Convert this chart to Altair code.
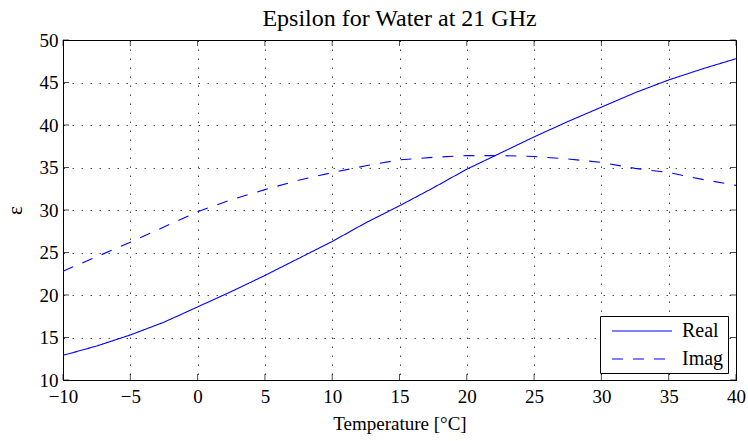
import altair as alt
import pandas as pd

# ---- data ----
temps = [-10, -7.5, -5, -2.5, 0, 2.5, 5, 7.5, 10, 12.5, 15, 17.5, 20, 22.5, 25, 27.5, 30, 32.5, 35, 37.5, 40]
real_vals = [12.9, 14.0, 15.3, 16.8, 18.6, 20.4, 22.3, 24.3, 26.3, 28.5, 30.5, 32.6, 34.8, 36.7, 38.6, 40.4, 42.1, 43.8, 45.3, 46.6, 47.8]
imag_vals = [22.8, 24.5, 26.2, 28.0, 29.8, 31.2, 32.4, 33.5, 34.4, 35.2, 35.9, 36.2, 36.4, 36.4, 36.3, 36.0, 35.6, 34.9, 34.4, 33.6, 32.9]
series_names = ["Real", "Imag"]
x_ticks = [-10, -5, 0, 5, 10, 15, 20, 25, 30, 35, 40]
y_ticks = [10, 15, 20, 25, 30, 35, 40, 45, 50]

title_text = "Epsilon for Water at 21 GHz"
x_title = "Temperature [°C]"
y_title = "ε"

FONT = "Liberation Serif"
BLUE = "#0000ff"

df = pd.DataFrame({
    "T": temps * 2,
    "eps": real_vals + imag_vals,
    "series": [series_names[0]] * len(temps) + [series_names[1]] * len(temps),
})

xscale = alt.Scale(domain=[x_ticks[0], x_ticks[-1]], nice=False, zero=False)
yscale = alt.Scale(domain=[y_ticks[0], y_ticks[-1]], nice=False, zero=False)
xaxis = alt.Axis(values=x_ticks, grid=True, tickSize=0, labelPadding=7,
                 titlePadding=8, format="d", title=x_title)
yaxis = alt.Axis(values=y_ticks, grid=True, tickSize=0, labelPadding=5,
                 titlePadding=14, format="d", title=y_title, titleFontSize=21)

lines = alt.Chart(df).mark_line(strokeWidth=1.1).encode(
    x=alt.X("T:Q", scale=xscale, axis=xaxis, title=x_title),
    y=alt.Y("eps:Q", scale=yscale, axis=yaxis, title=y_title),
    color=alt.Color("series:N", scale=alt.Scale(domain=series_names, range=[BLUE, BLUE]),
                    legend=alt.Legend(title=None)),
    strokeDash=alt.StrokeDash("series:N",
                              scale=alt.Scale(domain=series_names, range=[[1, 0], [11, 10]]),
                              legend=alt.Legend(title=None)),
    order=alt.Order("T:Q"),
)

xt = pd.DataFrame({"v": x_ticks})
yt = pd.DataFrame({"v": y_ticks})

tick_bottom = alt.Chart(xt).mark_tick(orient="vertical", size=6, thickness=1, color="black", yOffset=-3).encode(
    x=alt.X("v:Q", scale=xscale, axis=xaxis, title=x_title),
    y=alt.YDatum(y_ticks[0], scale=yscale, axis=yaxis, title=y_title))
tick_top = alt.Chart(xt).mark_tick(orient="vertical", size=6, thickness=1, color="black", yOffset=3).encode(
    x=alt.X("v:Q", scale=xscale, axis=xaxis, title=x_title),
    y=alt.YDatum(y_ticks[-1], scale=yscale, axis=yaxis, title=y_title))
tick_left = alt.Chart(yt).mark_tick(orient="horizontal", size=6, thickness=1, color="black", xOffset=3).encode(
    y=alt.Y("v:Q", scale=yscale, axis=yaxis, title=y_title),
    x=alt.XDatum(x_ticks[0], scale=xscale, axis=xaxis, title=x_title))
tick_right = alt.Chart(yt).mark_tick(orient="horizontal", size=6, thickness=1, color="black", xOffset=-3).encode(
    y=alt.Y("v:Q", scale=yscale, axis=yaxis, title=y_title),
    x=alt.XDatum(x_ticks[-1], scale=xscale, axis=xaxis, title=x_title))

chart = alt.layer(lines, tick_bottom, tick_top, tick_left, tick_right).properties(
    width=673, height=340,
    title=alt.TitleParams(title_text, font=FONT, fontSize=24, fontWeight="normal",
                          color="black", offset=0, anchor="middle"),
    padding={"left": 63, "top": 40, "right": 12, "bottom": 61},
    autosize=alt.AutoSizeParams(type="none"),
).configure_view(
    stroke="black", strokeWidth=1
).configure_axis(
    labelFont=FONT, labelFontSize=19, labelColor="black",
    titleFont=FONT, titleFontSize=19, titleFontWeight="normal", titleColor="black",
    domainColor="black", domainWidth=1,
    gridColor="black", gridDash=[1.5, 7.5], gridOpacity=0.7, gridWidth=1,
    labelFlush=False,
).configure_legend(
    orient="none", legendX=537, legendY=276,
    strokeColor="black", fillColor="white", cornerRadius=0,
    padding=4, labelFont=FONT, labelFontSize=20, labelColor="black",
    symbolType="M-0.3,0H5.7", symbolSize=400, symbolStrokeWidth=1.1, labelOffset=56,
    rowPadding=7,
)

chart.save("out.html", embed_options={"renderer": "svg", "actions": False})
